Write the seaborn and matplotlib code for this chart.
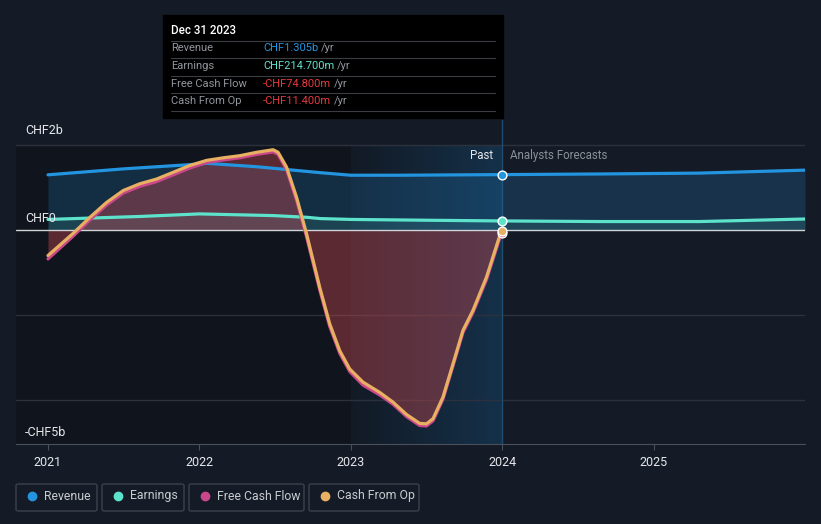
import numpy as np
import pandas as pd
import seaborn as sns
import matplotlib.pyplot as plt
from matplotlib.patches import Rectangle, FancyBboxPatch
from matplotlib.colors import LinearSegmentedColormap

# values in CHF billions, x as decimal years
rev_x = [2021.0, 2021.5, 2021.94, 2022.05, 2022.38, 2022.53, 2022.8, 2023.0, 2023.32, 2024.0,
         2024.65, 2025.3, 2026.0]
rev_y = [1.30, 1.44, 1.54, 1.57, 1.49, 1.44, 1.35, 1.29, 1.29, 1.305, 1.32, 1.34, 1.41]

earn_x = [2021.0, 2021.61, 2022.0, 2022.49, 2022.71, 2022.8, 2023.0, 2023.53, 2024.0,
          2024.65, 2025.3, 2026.0]
earn_y = [0.25, 0.32, 0.38, 0.34, 0.30, 0.27, 0.25, 0.23, 0.2147, 0.20, 0.20, 0.26]

cf_x = [2021.0, 2021.167, 2021.277, 2021.387, 2021.497, 2021.607, 2021.717, 2021.827,
        2021.937, 2022.048, 2022.157, 2022.267, 2022.378, 2022.487, 2022.52, 2022.576,
        2022.642, 2022.708, 2022.795, 2022.861, 2022.927, 2022.993, 2023.081, 2023.191,
        2023.279, 2023.368, 2023.455, 2023.5, 2023.543, 2023.609, 2023.675, 2023.741,
        2023.807, 2023.896, 2023.984, 2024.0]
cfo_y = [-0.60, -0.075, 0.30, 0.65, 0.93, 1.09, 1.20, 1.36, 1.52, 1.64, 1.70, 1.75, 1.83,
         1.89, 1.83, 1.48, 0.77, -0.09, -1.35, -2.21, -2.84, -3.27, -3.58, -3.82, -4.05,
         -4.34, -4.55, -4.56, -4.44, -3.93, -3.15, -2.36, -1.89, -1.11, -0.13, -0.0114]
fcf_y = [-0.68, -0.14, 0.24, 0.59, 0.87, 1.03, 1.14, 1.30, 1.46, 1.59, 1.65, 1.70, 1.78,
         1.84, 1.78, 1.42, 0.70, -0.16, -1.41, -2.27, -2.90, -3.33, -3.65, -3.88, -4.10,
         -4.39, -4.60, -4.61, -4.49, -3.98, -3.20, -2.41, -1.94, -1.17, -0.19, -0.0748]

names = ['Revenue', 'Earnings', 'Free Cash Flow', 'Cash From Op']
colors = ['#2394df', '#5de3cc', '#c9478a', '#e8b062']
year_ticks = [2021, 2022, 2023, 2024, 2025]

tip_labels = ['Revenue', 'Earnings', 'Free Cash Flow', 'Cash From Op']
tip_values = ['CHF1.305b', 'CHF214.700m', '-CHF74.800m', '-CHF11.400m']
tip_colors = ['#2394df', '#5de3cc', '#e5393f', '#e5393f']

bg = '#151b26'
sns.set_style('dark', {'axes.facecolor': bg, 'figure.facecolor': bg})
plt.rcParams['font.family'] = ['Roboto', 'DejaVu Sans']

df = pd.concat([
    pd.DataFrame({'x': rev_x, 'y': rev_y, 'series': 'Revenue'}),
    pd.DataFrame({'x': earn_x, 'y': earn_y, 'series': 'Earnings'}),
    pd.DataFrame({'x': cf_x, 'y': fcf_y, 'series': 'Free Cash Flow'}),
    pd.DataFrame({'x': cf_x, 'y': cfo_y, 'series': 'Cash From Op'}),
])

fig = plt.figure(figsize=(8.21, 5.24), dpi=100)
ax = fig.add_axes([16 / 821, 80 / 524, 789 / 821, 324 / 524])
ax.set_facecolor(bg)

x0 = 2021 - 32 / 151.5
x1 = 2026.0
y0, y1 = -5.035, 2.59

# past / forecast shading
ax.add_patch(Rectangle((x0, y0), 2023 - x0, 2 - y0, color='#10141c', zorder=0, lw=0))
grad = np.linspace(0, 1, 200).reshape(1, -1)
cmap = LinearSegmentedColormap.from_list('g', ['#121a25', '#15314a'])
ax.imshow(grad, extent=[2023, 2024, y0, 2.0], aspect='auto', cmap=cmap, zorder=0.5)
ax.set_xlim(x0, x1)
ax.set_ylim(y0, y1)

for gy in [2, -2, -4]:
    ax.axhline(gy, color='#2c323d', lw=1, zorder=1)
ax.axhline(0, color='#d0d3d8', lw=1, zorder=3)
ax.axvline(2024, color='#1f4d70', lw=1, zorder=2)

# area fills
ax.fill_between(rev_x, rev_y, 0, color='#1e6fa8', alpha=0.28, lw=0, zorder=2)
ax.fill_between(earn_x, earn_y, 0, color='#5de3cc', alpha=0.12, lw=0, zorder=2)
ax.fill_between(cf_x, cfo_y, 0, color='#cc4a52', alpha=0.40, lw=0, zorder=2)

sns.lineplot(data=df, x='x', y='y', hue='series', hue_order=names, palette=colors,
             sort=False, lw=2.3, legend=False, ax=ax, zorder=4,
             solid_joinstyle='round', solid_capstyle='round')

# markers at Dec 31 2023
ax.scatter([2024], [-0.0748], s=40, color=colors[2], edgecolor='white', lw=1, zorder=5)
ax.scatter([2024], [-0.0114], s=40, color=colors[3], edgecolor='white', lw=1, zorder=6)
ax.scatter([2024], [0.2147], s=40, color=colors[1], edgecolor='white', lw=1, zorder=6)
ax.scatter([2024], [1.305], s=40, color=colors[0], edgecolor='white', lw=1, zorder=6)

ax.set_xticks(year_ticks)
ax.set_xticklabels([str(t) for t in year_ticks], color='#e6e8eb', fontsize=9)
ax.set_yticks([])
ax.set_xlabel('')
ax.set_ylabel('')
ax.tick_params(axis='x', length=4, color='#4a505a', pad=5, bottom=True)
for s in ['top', 'right', 'left']:
    ax.spines[s].set_visible(False)
ax.spines['bottom'].set_color('#4a505a')

fig.text(25 / 821, 1 - 131 / 524, 'CHF2b', color='#e6e8eb', fontsize=9, va='center')
fig.text(25 / 821, 1 - 218 / 524, 'CHF0', color='#e6e8eb', fontsize=9, va='center')
fig.text(25 / 821, 1 - 432 / 524, '-CHF5b', color='#e6e8eb', fontsize=9, va='center')
fig.text(493 / 821, 1 - 156 / 524, 'Past', color='#e6e8eb', fontsize=8.3, va='center', ha='right')
fig.text(510 / 821, 1 - 156 / 524, 'Analysts Forecasts', color='#8b9098', fontsize=8.3, va='center')

# tooltip
fig.patches.append(Rectangle((163 / 821, 1 - 118 / 524), 340 / 821, 103 / 524,
                             transform=fig.transFigure, color='#000000', zorder=10))
fig.text(171 / 821, 1 - 31 / 524, 'Dec 31 2023', color='white', fontsize=8.3,
         fontweight='medium', va='center', zorder=11)
rows_y = [48, 66, 84, 101]
for i in range(4):
    fig.text(171 / 821, 1 - rows_y[i] / 524, tip_labels[i], color='#92969d', fontsize=8,
             va='center', zorder=11)
    t = fig.text(263 / 821, 1 - rows_y[i] / 524, tip_values[i], color=tip_colors[i],
                 fontsize=8, va='center', zorder=11)
    fig.canvas.draw()
    bb = t.get_window_extent()
    fig.text(bb.x1 / 821 + 3 / 821, 1 - rows_y[i] / 524, '/yr', color='#92969d', fontsize=8,
             va='center', zorder=11)
for ly in [41, 58, 76, 93, 111]:
    fig.add_artist(plt.Line2D([171 / 821, 495 / 821], [1 - ly / 524, 1 - ly / 524],
                              color='#3a3d42', lw=0.8, zorder=11))

# legend boxes
boxes = [(16, 97), (102, 184), (189, 304), (309, 419)]
for (bx0, bx1), name, c in zip(boxes, names, colors):
    fig.patches.append(FancyBboxPatch((bx0 / 821, 1 - 511 / 524), (bx1 - bx0) / 821, 27 / 524,
                                      boxstyle='round,pad=0,rounding_size=0.003',
                                      transform=fig.transFigure, facecolor=bg,
                                      edgecolor='#3c424d', lw=1))
    fig.add_artist(plt.Line2D([(bx0 + 16) / 821], [1 - 496 / 524], marker='o', ms=6,
                              color=c, lw=0))
    fig.text((bx0 + 28) / 821, 1 - 496 / 524, name, color='#c8cbd0', fontsize=8.8, va='center')

fig.savefig('out.png', dpi=100, facecolor=bg)
